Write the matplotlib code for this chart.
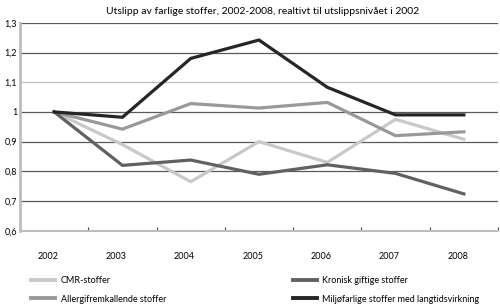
import numpy as np
import matplotlib
matplotlib.use("Agg")
import matplotlib.pyplot as plt
from matplotlib.lines import Line2D

years = ["2002", "2003", "2004", "2005", "2006", "2007", "2008"]
cmr = [1.0, 0.89, 0.765, 0.90, 0.83, 0.975, 0.908]
allergi = [1.0, 0.942, 1.028, 1.013, 1.032, 0.92, 0.933]
kronisk = [1.0, 0.82, 0.838, 0.79, 0.822, 0.793, 0.724]
miljo = [1.0, 0.982, 1.18, 1.242, 1.083, 0.99, 0.99]

names = ["CMR-stoffer", "Allergifremkallende stoffer",
         "Kronisk giftige stoffer", "Miljøfarlige stoffer med langtidsvirkning"]
colors = ["#c9c9c9", "#999999", "#616161", "#262626"]

plt.rcParams['font.family'] = ['Lato', 'DejaVu Sans']

fig = plt.figure(figsize=(5.0, 3.04), dpi=100)
ax = fig.add_axes([0.04, 0.241, 0.956, 0.684])

x = np.arange(len(years))
ax.set_xlim(-0.5, len(years) - 0.5)
ax.set_ylim(0.6, 1.3)

# horizontal grid
for v in np.arange(0.7, 1.31, 0.1):
    c = "#bdbdbd" if abs(v - 1.1) < 1e-6 else "#5a5a5a"
    ax.axhline(v, color=c, lw=0.9, zorder=1)

series = [cmr, allergi, kronisk, miljo]
for vals, col, name in zip(series, colors, names):
    ax.plot(x, vals, color=col, lw=2.3, zorder=3, solid_joinstyle='miter',
            label=name)

# labels sit a little left of the category centre in the original
ax.set_xticks(x - 0.09)
ax.set_xticklabels(years, fontsize=6.5)
ax.tick_params(axis='x', which='major', length=0, pad=15)
ax.set_xticks(np.arange(-0.5, len(years)), minor=True)
ax.tick_params(axis='x', which='minor', direction='in', length=3,
               color="#444444", width=0.8)

yt = np.round(np.arange(0.6, 1.31, 0.1), 1)
ax.set_yticks(yt)
ax.set_yticklabels([("%g" % v).replace(".", ",") for v in yt], fontsize=6.5)
ax.tick_params(axis='y', length=0, pad=2)

for s in ["top", "right"]:
    ax.spines[s].set_visible(False)
ax.spines["left"].set_color("#bdbdbd")
ax.spines["left"].set_linewidth(2)
ax.spines["bottom"].set_color("#bdbdbd")
ax.spines["bottom"].set_linewidth(1.5)

fig.text(0.526, 0.963, "Utslipp av farlige stoffer, 2002-2008, realtivt til utslippsnivået i 2002",
         ha="center", va="center", fontsize=7.5)

hnd = [Line2D([], [], color=c, lw=2.8) for c in colors]
leg1 = fig.legend(hnd[:2], names[:2], loc="upper left", bbox_to_anchor=(0.055, 0.105),
                  frameon=False, fontsize=6.5, handlelength=2.7, labelspacing=1.1,
                  borderaxespad=0, handletextpad=0.6)
leg2 = fig.legend(hnd[2:], names[2:], loc="upper left", bbox_to_anchor=(0.578, 0.105),
                  frameon=False, fontsize=6.5, handlelength=2.7, labelspacing=1.1,
                  borderaxespad=0, handletextpad=0.6)

fig.savefig("out.png", dpi=100)
